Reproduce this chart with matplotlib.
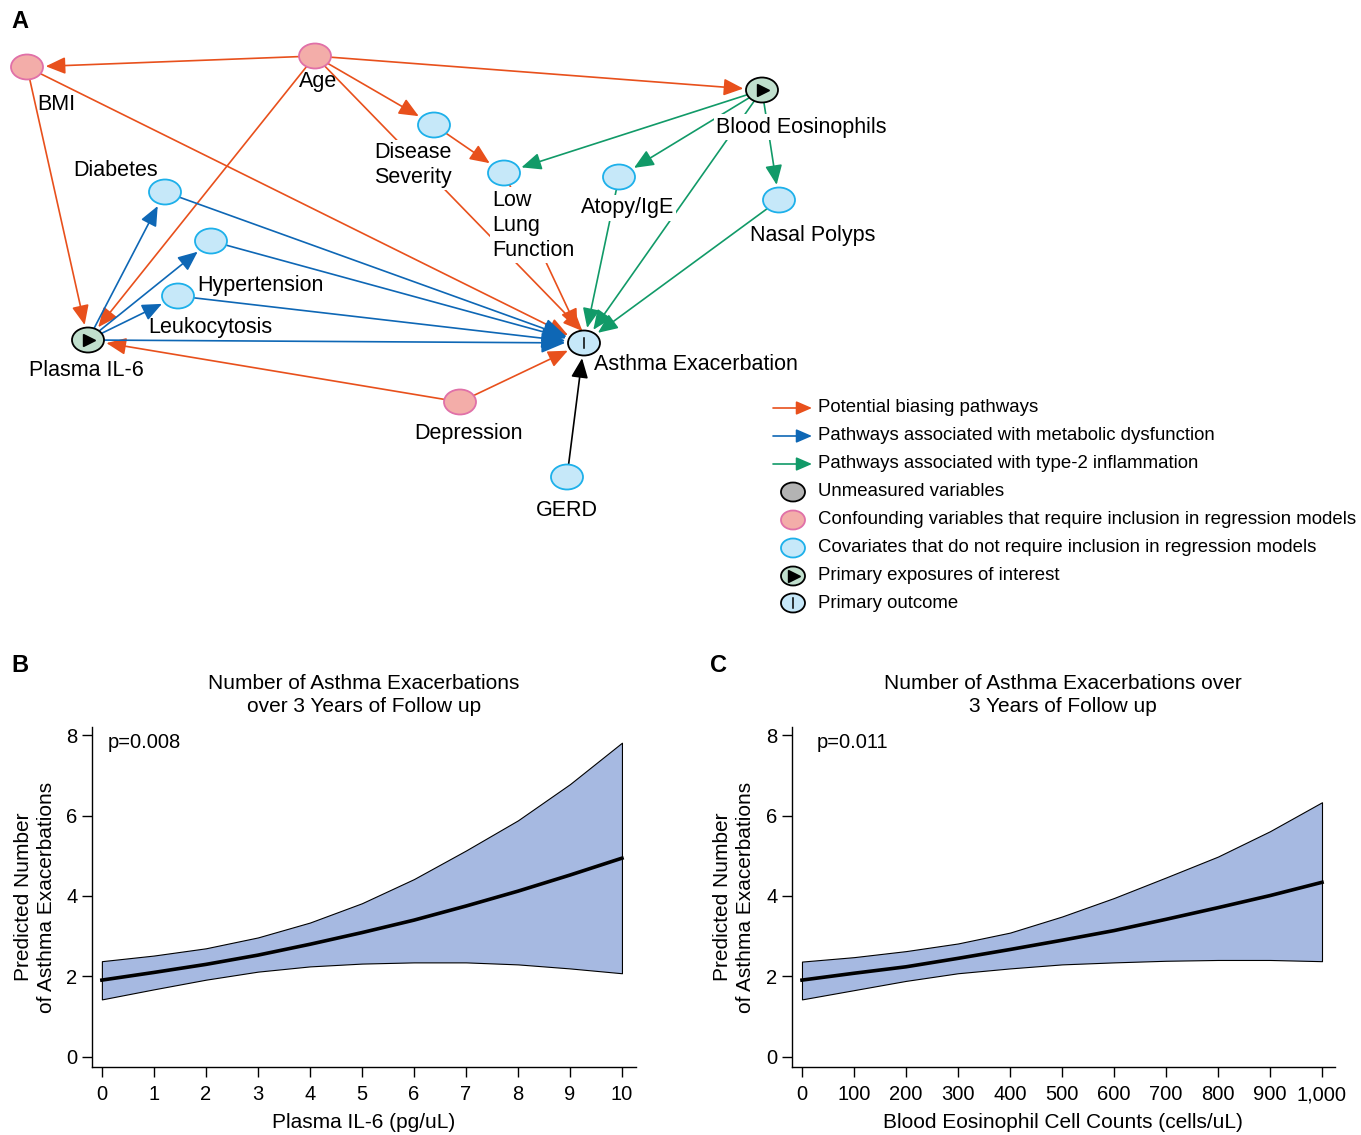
import numpy as np
import matplotlib
matplotlib.use('Agg')
import matplotlib.pyplot as plt
from matplotlib.patches import Ellipse, FancyArrowPatch
from matplotlib.ticker import FuncFormatter

plt.rcParams['font.family'] = 'Liberation Sans'

# ---- data: panel B (plasma IL-6) ----
il6_x = [0, 1, 2, 3, 4, 5, 6, 7, 8, 9, 10]
il6_fit = [1.91, 2.10, 2.30, 2.53, 2.80, 3.09, 3.40, 3.75, 4.12, 4.52, 4.94]
il6_upper = [2.38, 2.52, 2.70, 2.97, 3.34, 3.82, 4.42, 5.13, 5.88, 6.78, 7.81]
il6_lower = [1.43, 1.68, 1.92, 2.12, 2.25, 2.32, 2.35, 2.35, 2.30, 2.20, 2.08]

# ---- data: panel C (blood eosinophils) ----
eos_x = [0, 100, 200, 300, 400, 500, 600, 700, 800, 900, 1000]
eos_fit = [1.91, 2.08, 2.24, 2.45, 2.67, 2.90, 3.14, 3.42, 3.71, 4.01, 4.34]
eos_upper = [2.37, 2.48, 2.63, 2.82, 3.09, 3.49, 3.95, 4.46, 4.98, 5.61, 6.33]
eos_lower = [1.43, 1.66, 1.89, 2.08, 2.20, 2.30, 2.35, 2.39, 2.41, 2.41, 2.38]

y_ticks = [0, 2, 4, 6, 8]

# ---- DAG: nodes, kinds, edges ----
node_kind = {
    'BMI': 'conf', 'Age': 'conf', 'Depression': 'conf',
    'Eos': 'expo', 'IL6': 'expo',
    'Asthma': 'outcome',
    'DisSev': 'cov', 'LLF': 'cov', 'Diabetes': 'cov', 'Atopy': 'cov',
    'Nasal': 'cov', 'Hyp': 'cov', 'Leuk': 'cov', 'GERD': 'cov',
}
node_label = {
    'BMI': 'BMI', 'Age': 'Age', 'Depression': 'Depression',
    'Eos': 'Blood Eosinophils', 'IL6': 'Plasma IL-6',
    'Asthma': 'Asthma Exacerbation',
    'DisSev': 'Disease\nSeverity', 'LLF': 'Low\nLung\nFunction',
    'Diabetes': 'Diabetes', 'Atopy': 'Atopy/IgE', 'Nasal': 'Nasal Polyps',
    'Hyp': 'Hypertension', 'Leuk': 'Leukocytosis', 'GERD': 'GERD',
}
edges = [
    ('Age', 'BMI', 'bias'), ('Age', 'Eos', 'bias'), ('Age', 'DisSev', 'bias'),
    ('Age', 'IL6', 'bias'), ('Age', 'Asthma', 'bias'), ('BMI', 'IL6', 'bias'),
    ('BMI', 'Asthma', 'bias'), ('Depression', 'IL6', 'bias'),
    ('Depression', 'Asthma', 'bias'), ('DisSev', 'LLF', 'bias'),
    ('LLF', 'Asthma', 'bias'),
    ('IL6', 'Diabetes', 'meta'), ('IL6', 'Hyp', 'meta'), ('IL6', 'Leuk', 'meta'),
    ('Diabetes', 'Asthma', 'meta'), ('Hyp', 'Asthma', 'meta'),
    ('Leuk', 'Asthma', 'meta'), ('IL6', 'Asthma', 'meta'),
    ('Eos', 'LLF', 't2'), ('Eos', 'Atopy', 't2'), ('Eos', 'Nasal', 't2'),
    ('Eos', 'Asthma', 't2'), ('Atopy', 'Asthma', 't2'), ('Nasal', 'Asthma', 't2'),
    ('GERD', 'Asthma', 'other'),
]
legend_labels = [
    'Potential biasing pathways',
    'Pathways associated with metabolic dysfunction',
    'Pathways associated with type-2 inflammation',
    'Unmeasured variables',
    'Confounding variables that require inclusion in regression models',
    'Covariates that do not require inclusion in regression models',
    'Primary exposures of interest',
    'Primary outcome',
]

# ---- layout (pixel positions in the 1361x1135 canvas) ----
W, H = 1361, 1135
node_pos = {
    'BMI': (27, 67), 'Age': (315, 56), 'Eos': (762, 90), 'DisSev': (434, 125),
    'LLF': (504, 173), 'Diabetes': (165, 192), 'Atopy': (619, 177),
    'Nasal': (779, 200), 'Hyp': (211, 241), 'Leuk': (178, 296),
    'IL6': (88, 340), 'Asthma': (584, 343), 'Depression': (460, 402),
    'GERD': (567, 477),
}
label_pos = {
    'BMI': (37, 105), 'Age': (299, 82), 'Eos': (716, 127), 'DisSev': (374, 165),
    'LLF': (492, 225), 'Diabetes': (73, 170), 'Atopy': (581, 208),
    'Nasal': (750, 236), 'Hyp': (197, 285), 'Leuk': (148, 327),
    'IL6': (29, 371), 'Asthma': (594, 364), 'Depression': (414, 434),
    'GERD': (536, 511),
}
# labels drawn over the edges with a white backing
masking_labels = {'DisSev', 'LLF', 'Eos', 'Atopy'}
# some edges aim slightly off the target centre
edge_aim = {('Age', 'Asthma'): (10, 0)}

ORANGE = '#E8501C'
BLUE = '#0E67B5'
GREEN = '#119A68'
edge_color = {'bias': ORANGE, 'meta': BLUE, 't2': GREEN, 'other': 'black'}
node_style = {
    'conf': ('#F3ADA9', '#E070A8'),
    'cov': ('#C6E8F9', '#1DB0EA'),
    'expo': ('#C0DFCD', 'black'),
    'outcome': ('#C6E8F9', 'black'),
    'unmeasured': ('#B3B3B3', 'black'),
}
BAND = '#A6B9E1'
RX, RY = 16, 12.5


def rim(c, toward):
    dx, dy = toward[0] - c[0], toward[1] - c[1]
    t = 1.0 / np.sqrt((dx / RX) ** 2 + (dy / RY) ** 2)
    return c[0] + dx * t, c[1] + dy * t


def draw_node(ax, xy, kind, w=2 * RX, h=2 * RY):
    fc, ec = node_style[kind]
    ax.add_patch(Ellipse(xy, w, h, facecolor=fc, edgecolor=ec, lw=1.3, zorder=4))
    if kind == 'expo':
        ax.plot(xy[0] + 1, xy[1], marker='>', ms=8, color='black', zorder=5)
    elif kind == 'outcome':
        ax.plot([xy[0], xy[0]], [xy[1] - 5, xy[1] + 5], color='black', lw=1.1, zorder=5)


def draw_arrow(ax, p0, p1, color, big=False):
    hl, hw = (0.75, 0.32) if big else (0.6, 0.26)
    ax.add_patch(FancyArrowPatch(p0, p1,
                                 arrowstyle=f'-|>,head_length={hl},head_width={hw}',
                                 mutation_scale=20, color=color, lw=1.2,
                                 shrinkA=0, shrinkB=2, zorder=1))


fig = plt.figure(figsize=(W / 100, H / 100), dpi=100)

# ---- panel A: DAG ----
ax0 = fig.add_axes([0, 0, 1, 1])
ax0.set_xlim(0, W)
ax0.set_ylim(H, 0)
ax0.axis('off')

for src, dst, kind in edges:
    a = node_pos[src]
    off = edge_aim.get((src, dst), (0, 0))
    b = (node_pos[dst][0] + off[0], node_pos[dst][1] + off[1])
    p0 = rim(a, b)
    p1 = rim(node_pos[dst], a)
    # keep the end on the straight line from p0 to the aimed point
    if off != (0, 0):
        d = np.hypot(b[0] - p0[0], b[1] - p0[1])
        r = np.hypot(p1[0] - node_pos[dst][0], p1[1] - node_pos[dst][1])
        p1 = (p0[0] + (b[0] - p0[0]) * (d - r) / d, p0[1] + (b[1] - p0[1]) * (d - r) / d)
    big = dst == 'Asthma' and kind == 'meta'
    draw_arrow(ax0, p0, p1, edge_color[kind], big=big)

for name, xy in node_pos.items():
    draw_node(ax0, xy, node_kind[name])
    lx, ly = label_pos[name]
    bbox = None
    if name in masking_labels:
        bbox = dict(boxstyle='square,pad=0.1', facecolor='white', edgecolor='none')
    ax0.text(lx, ly, node_label[name], fontsize=15.5, ha='left', va='center',
             linespacing=1.25, zorder=2, bbox=bbox)

# legend
leg_y = [408, 436, 464, 492, 520, 548, 576, 603]
leg_kinds = ['bias', 'meta', 't2', 'unmeasured', 'conf', 'cov', 'expo', 'outcome']
for yy, kind, lab in zip(leg_y, leg_kinds, legend_labels):
    if kind in edge_color:
        ax0.add_patch(FancyArrowPatch((773, yy), (812, yy),
                                      arrowstyle='-|>,head_length=0.6,head_width=0.26',
                                      mutation_scale=16, color=edge_color[kind], lw=1.2,
                                      shrinkA=0, shrinkB=0))
    else:
        draw_node(ax0, (793, yy), kind, w=24, h=19)
    ax0.text(818, yy, lab, fontsize=13.4, ha='left', va='center')

ax0.text(20, 22, 'A', fontsize=17, fontweight='bold', ha='center', va='center')
ax0.text(20, 665, 'B', fontsize=17, fontweight='bold', ha='center', va='center')
ax0.text(719, 665, 'C', fontsize=17, fontweight='bold', ha='center', va='center')


# ---- panels B and C ----
def curve_panel(rect, x, fit, lo, hi, xlim, ptext, ptx):
    ax = fig.add_axes(rect)
    ax.fill_between(x, lo, hi, facecolor=BAND, edgecolor='black', lw=0.8)
    ax.plot(x, fit, color='black', lw=2.6)
    ax.set_xlim(*xlim)
    ax.set_ylim(-0.25, 8.2)
    ax.set_xticks(x)
    ax.set_yticks(y_ticks)
    for s in ['top', 'right']:
        ax.spines[s].set_visible(False)
    for s in ['left', 'bottom']:
        ax.spines[s].set_linewidth(1.0)
    ax.tick_params(direction='out', length=7, width=1.0, labelsize=14.5)
    ax.tick_params(axis='x', pad=6)
    ax.text(ptx, 0.953, ptext, transform=ax.transAxes, fontsize=14.5, va='center')
    return ax


axB = curve_panel([92 / W, 1 - 1067 / H, 544 / W, 340 / H], il6_x, il6_fit,
                  il6_lower, il6_upper, (-0.19, 10.27), 'p=0.008', 0.029)
axC = curve_panel([792 / W, 1 - 1067 / H, 543 / W, 340 / H], eos_x, eos_fit,
                  eos_lower, eos_upper, (-19.2, 1025), 'p=0.011', 0.046)
axC.xaxis.set_major_formatter(FuncFormatter(lambda v, p: f'{v:,.0f}'))

fig.text(364 / W, 1 - 695 / H, 'Number of Asthma Exacerbations\nover 3 Years of Follow up',
         ha='center', va='center', fontsize=15, linespacing=1.26)
fig.text(1063 / W, 1 - 695 / H, 'Number of Asthma Exacerbations over\n3 Years of Follow up',
         ha='center', va='center', fontsize=15, linespacing=1.26)
fig.text(364 / W, 1 - 1122 / H, 'Plasma IL-6 (pg/uL)', ha='center', va='center', fontsize=15)
fig.text(1063 / W, 1 - 1122 / H, 'Blood Eosinophil Cell Counts (cells/uL)',
         ha='center', va='center', fontsize=15)
for xc in [35, 734]:
    fig.text(xc / W, 1 - 897 / H, 'Predicted Number\nof Asthma Exacerbations',
             rotation=90, ha='center', va='center', fontsize=15, linespacing=1.3)

fig.savefig('out.png', dpi=100)
